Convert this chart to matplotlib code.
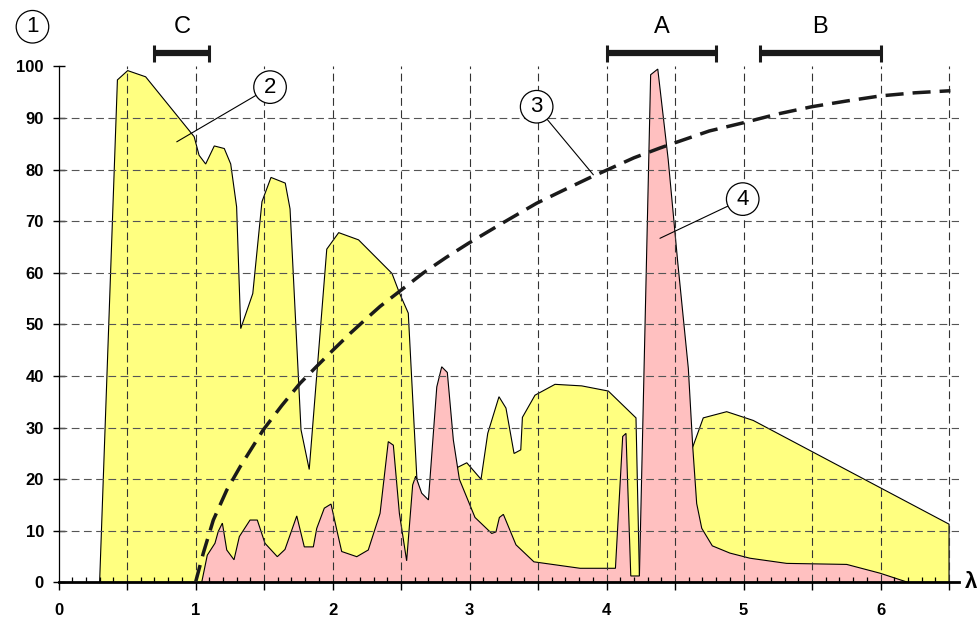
import numpy as np
import matplotlib.pyplot as plt
from matplotlib.ticker import MultipleLocator, FuncFormatter

plt.rcParams['font.family'] = ['Liberation Sans', 'DejaVu Sans']

# curve 2 (yellow area)
yellow_x = [0.30, 0.43, 0.505, 0.636, 0.99, 1.026, 1.074, 1.137, 1.21, 1.257,
            1.30, 1.33, 1.418, 1.485, 1.551, 1.655, 1.69, 1.77, 1.83, 1.958,
            2.045, 2.19, 2.434, 2.49, 2.553, 2.615, 2.66, 2.90, 2.912, 2.98,
            3.084, 3.133, 3.215, 3.266, 3.325, 3.374, 3.386, 3.478, 3.624, 3.819,
            4.013, 4.215, 4.24, 4.45, 4.634, 4.706, 4.877, 5.071, 6.5, 6.5]
yellow_y = [0, 97.4, 99.2, 98.0, 86.4, 82.8, 81.1, 84.6, 84.1, 81.1,
            72.8, 49.2, 56.0, 73.8, 78.5, 77.4, 72.4, 29.6, 21.9, 64.6,
            67.8, 66.4, 59.9, 56.0, 52.2, 20.5, 12.0, 12.0, 22.3, 23.2,
            20.0, 28.9, 36.0, 33.8, 25.0, 25.7, 32.0, 36.3, 38.4, 38.1,
            37.1, 31.9, 1.3, 15.0, 26.6, 31.9, 33.1, 31.4, 11.3, 0]

# curve 4 (pink area)
pink_x = [1.045, 1.086, 1.142, 1.166, 1.196, 1.228, 1.281, 1.32, 1.398, 1.451,
          1.507, 1.597, 1.653, 1.739, 1.794, 1.86, 1.885, 1.94, 1.989, 2.031,
          2.067, 2.177, 2.261, 2.347, 2.407, 2.444, 2.488, 2.541, 2.585, 2.607,
          2.651, 2.70, 2.761, 2.797, 2.838, 2.882, 2.926, 3.04, 3.162, 3.193,
          3.218, 3.247, 3.339, 3.47, 3.807, 4.065, 4.118, 4.142, 4.177, 4.24,
          4.322, 4.374, 4.45, 4.52, 4.597, 4.63, 4.658, 4.695, 4.772, 4.90,
          5.047, 5.315, 5.753, 5.996, 6.203]
pink_y = [0, 5.3, 7.6, 9.9, 11.5, 6.3, 4.4, 8.9, 12.1, 12.1,
          7.6, 5.0, 6.4, 12.9, 6.9, 6.9, 10.5, 14.4, 15.2, 10.2,
          6.0, 5.0, 6.3, 13.4, 27.3, 26.6, 13.4, 4.2, 18.9, 20.6,
          17.3, 16.0, 37.9, 41.8, 40.7, 27.6, 20.0, 12.6, 9.5, 9.8,
          12.6, 13.2, 7.3, 4.0, 2.75, 2.75, 28.3, 28.9, 1.26, 1.26,
          98.4, 99.5, 82.0, 62.0, 41.5, 26.0, 15.3, 10.5, 7.1, 5.7,
          4.7, 3.7, 3.5, 1.8, 0]

curve_x = [1.0, 1.02, 1.057, 1.13, 1.228, 1.325, 1.41, 1.495, 1.63, 1.763,
           1.885, 2.006, 2.13, 2.25, 2.347, 2.493, 2.663, 2.83, 2.99, 3.25,
           3.49, 3.70, 3.89, 4.0, 4.2, 4.39, 4.487, 4.75, 5.0, 5.25,
           5.498, 5.75, 6.0, 6.25, 6.51]
curve_y = [0, 2.0, 5.7, 12.1, 17.9, 22.4, 26.0, 29.6, 34.3, 38.6,
           41.9, 45.1, 48.3, 51.2, 53.5, 56.5, 60.0, 63.0, 65.7, 69.8,
           73.5, 76.2, 78.6, 79.9, 82.3, 84.2, 85.1, 87.5, 89.1, 90.8,
           92.2, 93.3, 94.3, 94.9, 95.3]

# ranges A, B, C above the plot
band_names = ['C', 'A', 'B']
band_start = [0.7, 4.0, 5.12]
band_end = [1.1, 4.8, 6.0]

fig = plt.figure(figsize=(9.8, 6.19), dpi=100)
ax = fig.add_axes([0.0597, 0.059, 0.9185, 0.8336])
ax.set_xlim(0, 6.57)
ax.set_ylim(0, 100)

ax.fill(yellow_x, yellow_y, facecolor='#FFFF80', edgecolor='black', linewidth=0.8, zorder=1)
ax.fill(pink_x, pink_y, facecolor='#FFC0C0', edgecolor='black', linewidth=0.8, zorder=1.5)

# grid
for yv in range(10, 100, 10):
    ax.plot([0, 6.57], [yv, yv], color='#555555', linewidth=0.8,
            linestyle=(0, (7, 4)), zorder=2)
for xv in np.arange(0.5, 6.51, 0.5):
    ax.plot([xv, xv], [0, 100], color='#333333', linewidth=0.8,
            linestyle=(0, (7, 4)), zorder=2)

ax.plot(curve_x, curve_y, color='#1a1a1a', linewidth=2.5,
        linestyle=(0, (5.2, 2.6)), zorder=3)

for name, a, b in zip(band_names, band_start, band_end):
    ax.plot([a, b], [102.7, 102.7], color='#1a1a1a', linewidth=4.5,
            solid_capstyle='butt', clip_on=False)
    for e in (a, b):
        ax.plot([e, e], [100.9, 104.2], color='#1a1a1a', linewidth=2.2,
                solid_capstyle='butt', clip_on=False)
    ax.text((a + b) / 2, 107.7, name, fontsize=17, ha='center', va='center')

# circled labels
circ = dict(boxstyle='circle,pad=0.26', fc='white', ec='black', lw=0.9)
ax.text(-0.19, 107.7, '1', fontsize=16, ha='center', va='center', bbox=circ)
labels = [('2', 1.544, 96.0, 0.863, 85.4),
          ('3', 3.49, 92.2, 3.904, 79.0),
          ('4', 4.994, 74.3, 4.39, 66.7)]
for t, tx, ty, px, py in labels:
    ax.annotate(t, xy=(px, py), xytext=(tx, ty), fontsize=16, ha='center',
                va='center', bbox=circ, zorder=5,
                arrowprops=dict(arrowstyle='-', color='black', lw=0.8,
                                shrinkA=0, shrinkB=0))

ax.text(6.66, 0, 'λ', fontsize=16, fontweight='bold', ha='center', va='center')

for s in ['top', 'right']:
    ax.spines[s].set_visible(False)
ax.spines['bottom'].set_linewidth(2)
ax.spines['left'].set_linewidth(0.9)

ax.xaxis.set_major_locator(MultipleLocator(0.5))
ax.xaxis.set_minor_locator(MultipleLocator(0.1))
ax.xaxis.set_major_formatter(FuncFormatter(lambda v, p: '%d' % round(v) if abs(v - round(v)) < 1e-6 else ''))
ax.yaxis.set_major_locator(MultipleLocator(10))
ax.tick_params(axis='x', which='major', direction='out', length=6, width=1, pad=9,
               labelsize=12)
ax.tick_params(axis='x', which='minor', direction='in', length=3.5, width=0.9)
ax.tick_params(axis='y', which='major', direction='inout', length=9, width=1, pad=6,
               labelsize=12)
for lab in ax.get_xticklabels() + ax.get_yticklabels():
    lab.set_fontweight('bold')

plt.savefig('out.png', dpi=100)
